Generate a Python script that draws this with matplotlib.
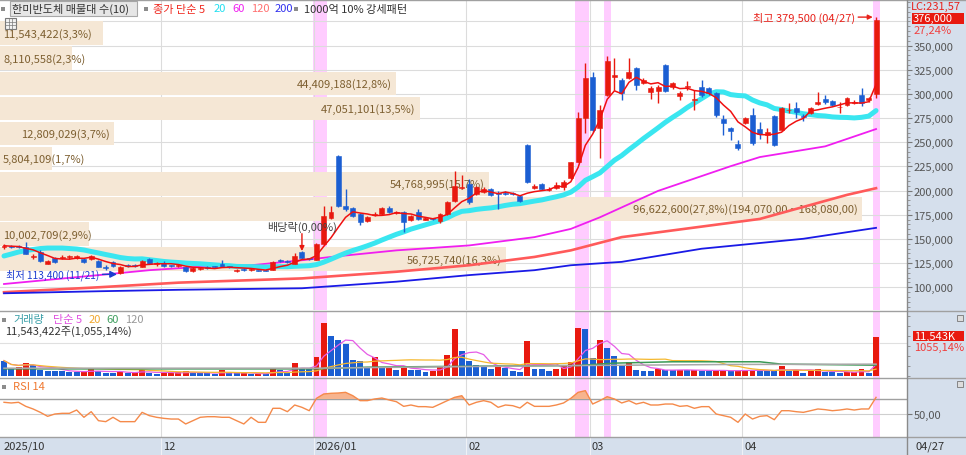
import numpy as np
import pandas as pd
import matplotlib
matplotlib.use("Agg")
import matplotlib.pyplot as plt
import matplotlib.transforms as mtransforms
from matplotlib.patches import Rectangle
from matplotlib.lines import Line2D
from matplotlib.ticker import FuncFormatter, MultipleLocator

plt.rcParams['font.family'] = ['Noto Sans CJK KR', 'DejaVu Sans']
plt.rcParams['font.size'] = 8

# 일봉 데이터 (천원) - 2025/10/30 ~ 2026/04/27
opens = [142.0, 143.0, 142.5, 142.0, 131.5, 136.9, 124.6, 130.7, 130.7, 131.0,
         130.7, 129.7, 129.7, 127.7, 121.0, 126.6, 114.3, 123.0, 123.0, 121.5,
         129.7, 124.0, 125.6, 123.0, 122.5, 120.5, 116.4, 119.0, 121.0, 122.0,
         124.6, 122.0, 117.0, 118.8, 117.4, 118.0, 118.0, 118.4, 128.2, 127.2,
         124.6, 136.9, 130.2, 128.7, 145.1, 171.7, 236.0, 184.0, 182.0, 175.8,
         168.6, 175.0, 175.8, 182.0, 177.0, 177.9, 169.7, 177.9, 170.0, 171.7,
         168.6, 175.8, 189.1, 203.0, 206.6, 196.3, 198.4, 201.4, 197.3, 197.0,
         197.0, 194.3, 247.5, 203.0, 206.6, 200.9, 202.5, 203.5, 212.7, 230.1,
         275.2, 317.2, 264.9, 298.8, 318.0, 314.1, 316.2, 326.4, 311.1, 301.8,
         302.9, 329.5, 307.0, 297.8, 307.0, 294.0, 307.0, 305.9, 300.8, 274.2,
         265.0, 248.6, 270.1, 278.3, 263.9, 257.8, 277.3, 262.9, 283.0, 285.5,
         277.3, 280.3, 289.5, 294.7, 292.6, 286.0, 288.5, 291.0, 298.8, 294.0,
         300.0]
highs = [145.1, 144.0, 143.5, 147.1, 134.8, 138.9, 128.7, 131.8, 133.8, 133.8,
         133.8, 130.7, 133.8, 128.7, 123.5, 127.7, 122.5, 124.5, 124.5, 128.7,
         130.7, 126.6, 127.0, 123.5, 124.6, 121.5, 120.5, 121.5, 122.5, 122.5,
         128.0, 122.5, 119.0, 119.5, 119.5, 118.4, 118.4, 127.2, 129.0, 128.0,
         135.9, 137.5, 130.7, 145.6, 184.0, 184.0, 237.0, 201.4, 183.0, 176.9,
         173.8, 178.0, 183.0, 184.0, 179.0, 179.0, 174.8, 181.0, 172.8, 172.0,
         176.9, 189.1, 219.9, 216.0, 211.7, 205.0, 203.5, 202.5, 199.4, 199.4,
         198.4, 195.3, 248.6, 206.6, 207.6, 203.5, 208.6, 210.7, 230.1, 281.4,
         331.6, 322.3, 288.5, 339.7, 337.7, 316.2, 337.7, 328.0, 317.0, 308.0,
         309.0, 331.0, 312.0, 303.0, 313.0, 303.9, 314.1, 307.0, 302.0, 278.3,
         266.0, 252.7, 276.2, 285.5, 271.1, 265.0, 278.3, 286.5, 290.6, 291.6,
         279.0, 286.5, 301.8, 298.8, 294.0, 291.6, 297.0, 293.6, 305.9, 296.5,
         379.5]
lows = [140.0, 141.0, 140.5, 134.0, 129.7, 126.6, 123.6, 125.6, 129.7, 129.7,
        129.7, 125.6, 128.7, 120.5, 117.4, 121.5, 113.4, 120.5, 120.5, 121.0,
        123.6, 122.5, 121.5, 121.0, 121.5, 115.5, 115.4, 118.4, 119.0, 120.5,
        121.0, 120.0, 116.0, 117.0, 117.0, 116.4, 116.4, 118.0, 126.6, 125.6,
        124.0, 129.7, 128.7, 128.2, 144.0, 170.7, 183.0, 179.0, 172.8, 164.5,
        167.6, 174.0, 174.8, 176.9, 176.0, 157.4, 168.6, 169.7, 169.7, 169.5,
        166.6, 174.8, 188.1, 201.4, 186.0, 195.3, 197.3, 194.3, 181.0, 195.3,
        195.3, 188.1, 207.6, 201.4, 200.4, 199.4, 201.4, 200.4, 212.0, 229.1,
        259.8, 261.0, 234.2, 297.8, 303.9, 293.6, 315.0, 304.0, 310.0, 295.0,
        290.6, 301.8, 305.0, 294.0, 304.0, 283.4, 297.0, 299.0, 276.2, 257.8,
        252.7, 242.4, 269.0, 247.5, 253.0, 249.6, 246.5, 262.0, 280.0, 275.2,
        272.0, 279.0, 288.5, 289.5, 287.5, 280.3, 287.5, 289.5, 288.0, 292.0,
        296.0]
closes = [143.0, 142.0, 141.5, 134.8, 132.5, 127.7, 127.7, 126.6, 131.8, 131.8,
          132.8, 126.6, 132.8, 121.5, 119.5, 122.5, 121.5, 122.5, 122.0, 127.7,
          124.6, 125.0, 122.5, 122.0, 123.5, 116.4, 119.5, 120.0, 120.0, 121.0,
          121.5, 121.0, 118.0, 118.0, 119.0, 117.0, 117.2, 126.6, 127.2, 126.2,
          132.8, 130.7, 129.2, 145.1, 173.8, 177.9, 184.0, 181.0, 173.8, 167.6,
          172.8, 175.8, 182.0, 177.9, 177.9, 167.6, 173.8, 170.7, 171.7, 170.7,
          175.8, 188.1, 204.5, 204.0, 188.1, 203.5, 201.4, 195.3, 196.3, 196.3,
          196.3, 189.1, 208.6, 204.5, 201.4, 201.4, 205.5, 208.6, 229.1, 275.2,
          316.2, 262.9, 283.4, 334.6, 319.3, 300.8, 322.3, 309.0, 314.1, 305.9,
          307.0, 302.9, 311.1, 300.8, 308.0, 294.7, 298.8, 300.8, 278.3, 270.1,
          261.9, 244.5, 275.2, 249.6, 258.8, 260.9, 247.5, 285.5, 283.4, 281.4,
          276.2, 285.5, 291.6, 291.6, 288.5, 286.5, 295.7, 291.6, 290.6, 295.5,
          376.0]

# 거래량 (백만주)
volumes = [4.65, 2.37, 2.66, 3.94, 3.35, 1.98, 1.69, 1.66, 1.48, 1.39,
           1.15, 1.24, 2.16, 1.69, 0.98, 0.95, 1.39, 0.98, 1.18, 1.98,
           0.98, 0.59, 1.00, 1.10, 1.20, 1.45, 0.89, 0.86, 0.83, 0.80,
           1.78, 0.89, 0.83, 0.86, 0.70, 0.75, 0.72, 2.37, 1.98, 1.39,
           3.85, 2.37, 2.16, 5.62, 15.70, 12.05, 10.75, 9.56, 4.82, 4.65,
           2.66, 5.62, 2.66, 2.75, 1.98, 2.66, 1.98, 1.80, 1.39, 1.45,
           2.66, 6.42, 14.00, 7.40, 4.65, 3.46, 2.66, 2.16, 2.66, 2.46,
           1.48, 1.18, 10.36, 2.16, 2.07, 1.69, 2.16, 3.46, 4.35, 14.20,
           14.05, 5.33, 10.75, 8.29, 5.92, 3.46, 4.14, 1.86, 1.69, 1.63,
           2.16, 1.86, 1.80, 1.90, 1.75, 1.85, 1.70, 1.62, 1.75, 1.80,
           1.45, 1.70, 1.86, 1.95, 1.69, 1.48, 1.45, 3.17, 1.69, 1.98,
           0.98, 1.69, 2.16, 1.18, 1.15, 1.12, 1.20, 1.25, 2.16, 1.00,
           11.543422]

# RSI 14
rsi14 = [65.6, 64.7, 65.6, 60.2, 56.7, 52.2, 46.9, 50.0, 50.9, 50.9,
         55.3, 45.6, 53.1, 41.1, 39.8, 45.6, 39.8, 39.8, 39.8, 52.2,
         47.8, 45.6, 44.2, 43.3, 43.3, 36.7, 41.1, 45.6, 46.4, 46.4,
         45.6, 45.6, 41.1, 36.7, 45.6, 38.9, 38.9, 57.6, 57.6, 53.1,
         62.0, 58.9, 54.4, 70.9, 76.7, 77.6, 78.0, 78.9, 74.4, 67.8,
         67.8, 70.0, 71.3, 68.7, 66.4, 60.2, 62.0, 59.8, 59.8, 58.9,
         63.3, 67.8, 72.2, 74.4, 62.0, 65.6, 67.8, 65.6, 58.9, 62.0,
         61.1, 58.0, 65.6, 60.2, 60.2, 60.2, 62.0, 64.7, 70.9, 78.9,
         81.1, 63.3, 67.8, 73.1, 70.0, 64.7, 67.8, 63.3, 65.6, 62.0,
         62.0, 63.3, 63.3, 60.2, 61.1, 57.6, 59.8, 59.8, 50.0, 47.8,
         45.6, 38.9, 50.0, 43.3, 46.9, 47.8, 42.4, 54.4, 54.4, 53.1,
         52.2, 54.4, 56.7, 55.8, 54.4, 55.3, 56.7, 55.3, 56.7, 56.7,
         72.2]

# 20일선 앞부분 (이전 데이터가 없어 화면에서 읽음, 천원)
ma20_head = [132.4, 134.4, 136.5, 138.0, 139.1, 140.1, 140.6, 140.6, 140.6, 140.1,
             139.6, 138.6, 137.0, 135.5, 133.9, 132.4, 130.8, 129.8, 129.3]
# 60/120/200일선 (화면에서 읽은 점, 천원)
ma60_idx = [0, 13, 20, 27, 34, 41, 45, 54, 64, 73, 78, 82, 90, 100, 104, 113, 120]
ma60_val = [103.4, 112.6, 117.7, 121.2, 122.8, 128.0, 131.4, 138.2, 143.3, 151.9,
            160.4, 172.4, 199.7, 225.3, 234.7, 245.8, 263.7]
ma120_idx = [0, 13, 24, 41, 54, 64, 73, 78, 85, 104, 116, 120]
ma120_val = [94.9, 100.0, 104.8, 109.2, 116.1, 122.8, 131.4, 138.2, 151.9, 170.7, 195.6, 202.5]
ma200_idx = [0, 13, 24, 41, 54, 64, 73, 78, 85, 96, 110, 120]
ma200_val = [93.8, 95.9, 97.4, 99.0, 105.8, 112.6, 117.7, 122.8, 126.3, 139.9, 150.2, 161.5]
# 거래량 60/120 이평 (백만주)
vma60_idx = [0, 43, 50, 60, 66, 79, 84, 92, 104, 107, 120]
vma60_val = [2.2, 2.2, 2.7, 2.9, 3.0, 3.2, 3.9, 4.3, 4.3, 3.6, 3.3]
vma120_idx = [0, 43, 60, 80, 100, 120]
vma120_val = [2.4, 2.4, 2.8, 3.2, 3.5, 3.6]

# 매물대 (아래 구간부터)
band_vol = [56725740, 10002709, 96622600, 54768995, 5804109,
            12809029, 47051101, 44409188, 8110558, 11543422]
band_pct = [16.3, 2.9, 27.8, 15.7, 1.7, 3.7, 13.5, 12.8, 2.3, 3.3]
band_low = 116100
band_step = 25990

# 날짜 / 기타 정보
month_idx = [0, 22, 43, 64, 81, 102]
month_lbl = ['2025/10', '12', '2026/01', '02', '03', '04']
strong_days = [[43, 44], [79, 80], [83], [120]]   # 1000억 10% 강세패턴
dividend_idx = 41
dividend_pct = 0.0
low_date = '11/21'
last_date = '04/27'
last_volume = 11543422
vol_chg = 1055.14
price_chg = 27.24
lc_value = 231.57

RED = '#e8190f'
BLUE = '#1b5ed2'
W, H = 966, 456


def fx(px):
    return px / W


def fy(py):
    return 1 - py / H


def kf(v, d):
    # 한국식 표기: 소수점도 쉼표
    return f"{v:,.{d}f}".replace('.', ',')


o = np.array(opens) * 1000
h = np.array(highs) * 1000
l = np.array(lows) * 1000
c = np.array(closes) * 1000
v = np.array(volumes)
r = np.array(rsi14)
n = len(c)
x = np.arange(n)

fig = plt.figure(figsize=(9.66, 4.56), dpi=100)
fig.patch.set_facecolor('white')

# 오른쪽 축 영역 배경
fig.add_artist(Rectangle((fx(907), 0), 1 - fx(907), 1, transform=fig.transFigure,
                         facecolor='#d5dfec', edgecolor='none', zorder=-10))

ax_p = fig.add_axes([0, fy(311), fx(907), 309 / H])
ax_v = fig.add_axes([0, fy(378.5), fx(907), 66.5 / H], sharex=ax_p)
ax_r = fig.add_axes([0, fy(437.5), fx(907), 58.5 / H], sharex=ax_p)
ax_d = fig.add_axes([0, 0, fx(907), 18 / H], sharex=ax_p)
ax_d.set_facecolor('#d5dfec')

for ax in (ax_p, ax_v, ax_r, ax_d):
    for s in ax.spines.values():
        s.set_visible(False)
    ax.tick_params(axis='x', bottom=False, labelbottom=False)
    ax.tick_params(axis='y', left=False, labelleft=False)
ax_p.set_xlim(-0.55, 124.26)
ax_d.set_yticks([])

# 강세패턴 표시 / 세로 격자
for grp in strong_days:
    for ax in (ax_p, ax_v, ax_r):
        ax.axvspan(grp[0] - 0.48, grp[-1] + 0.48, color='#ffccff', lw=0, zorder=0)
for m in month_idx[1:]:
    for ax in (ax_p, ax_v, ax_r):
        ax.axvline(m - 0.4, color='#dcdcdc', lw=0.8, zorder=0.5)
    ax_d.axvline(m - 0.4, color='#eef1f6', lw=0.8)

# ---------------- 가격 ----------------
ax_p.set_ylim(76510, 396170)
for yv in range(100000, 375001, 25000):
    ax_p.axhline(yv, color='#dcdcdc', lw=0.8, zorder=0.5)

# 매물대
tb = mtransforms.blended_transform_factory(ax_p.transAxes, ax_p.transData)
vmax = max(band_vol)
full = 862 / 907
for k in range(len(band_vol)):
    lo = band_low + k * band_step
    w = band_vol[k] / vmax * full
    ax_p.add_patch(Rectangle((0, lo + 800), w, band_step - 1600, transform=tb,
                             facecolor='#f5e7d5', edgecolor='none', zorder=1))
    lbl = kf(band_vol[k], 0) + '(' + kf(band_pct[k], 1) + '%)'
    if band_vol[k] == vmax:
        lbl += '(' + kf(lo + band_step, 2) + ' ~ ' + kf(lo, 2) + ')'
    if band_pct[k] < 3.5:
        ax_p.text(3 / 907, lo + band_step / 2, lbl, transform=tb, ha='left', va='center',
                  color='#7d5f30', zorder=1.5)
    else:
        ax_p.text(w - 4 / 907, lo + band_step / 2, lbl, transform=tb, ha='right', va='center',
                  color='#7d5f30', zorder=1.5)

# 이동평균
cs = pd.Series(c)
ma5 = cs.rolling(5, min_periods=1).mean()
ma20 = cs.rolling(20).mean()
ma20.iloc[:len(ma20_head)] = np.array(ma20_head) * 1000
ax_p.plot(ma60_idx, np.array(ma60_val) * 1000, color='#f01ef0', lw=1.3, zorder=2)
ax_p.plot(ma120_idx, np.array(ma120_val) * 1000, color='#ff5a5a', lw=1.9, zorder=2)
ax_p.plot(ma200_idx, np.array(ma200_val) * 1000, color='#1a1ae6', lw=1.3, zorder=2)
ax_p.plot(x, ma20, color='#3ae6f0', lw=3.6, zorder=2, solid_capstyle='round')

# 캔들
col = np.where(c >= o, RED, BLUE)
ax_p.vlines(x, l, h, colors=col, lw=1, zorder=3)
ax_p.bar(x, np.maximum(np.abs(c - o), 900), bottom=np.minimum(o, c), width=0.68,
         color=col, edgecolor=col, lw=0.4, zorder=4)
ax_p.plot(x, ma5, color='#f01010', lw=1.1, zorder=5)

# 최고 / 최저 / 배당락
i_hi = int(np.argmax(h))
i_lo = int(np.argmin(l))
ax_p.annotate(f"최고 {h[i_hi]:,.0f} ({last_date})", xy=(i_hi - 0.45, h[i_hi]), xytext=(-12.5, 0),
              textcoords='offset points', ha='right', va='center', color='#e8221b', zorder=8,
              arrowprops=dict(arrowstyle='-|>', color='#e8221b', lw=1, shrinkA=0, shrinkB=0,
                              mutation_scale=7, relpos=(1, 0.5)))
ax_p.annotate(f"최저 {l[i_lo]:,.0f} ({low_date})", xy=(i_lo - 0.45, l[i_lo]), xytext=(-12.5, 0),
              textcoords='offset points', ha='right', va='center', color='#1c3ccf', zorder=8,
              fontsize=7.3,
              arrowprops=dict(arrowstyle='-|>', color='#1c3ccf', lw=1, shrinkA=0, shrinkB=0,
                              mutation_scale=10, relpos=(1, 0.5)))
ax_p.annotate('', xy=(dividend_idx, h[dividend_idx]), xytext=(0, 12.5), textcoords='offset points',
              arrowprops=dict(arrowstyle='-|>', color=RED, lw=1, shrinkA=0, shrinkB=0,
                              mutation_scale=7), zorder=8)
ax_p.annotate('배당락(' + kf(dividend_pct, 2) + '%)', xy=(dividend_idx, h[dividend_idx]),
              xytext=(0, 17.5), textcoords='offset points', ha='center', va='center',
              color='#444444', zorder=8)

# 가격축 (오른쪽)
ax_p.yaxis.tick_right()
ax_p.set_yticks(range(100000, 350001, 25000))
ax_p.yaxis.set_major_formatter(FuncFormatter(lambda val, p: f"{int(val):,}"))
ax_p.yaxis.set_minor_locator(MultipleLocator(5000))
ax_p.tick_params(axis='y', which='major', right=True, labelright=True, length=3.6, width=0.8,
                 color='#777777', pad=1, labelcolor='#555555', labelsize=8)
ax_p.tick_params(axis='y', which='minor', right=True, length=1.8, width=0.6, color='#888888')

# ---------------- 거래량 ----------------
ax_v.set_ylim(-0.36, 19.35)
ax_v.axhline(10, color='#e0e0e0', lw=0.8, zorder=0.5)
vcol = [BLUE] + [RED if v[i] > v[i - 1] else BLUE for i in range(1, n)]
ax_v.bar(x, v, width=0.82, color=vcol, zorder=3)
vs = pd.Series(v)
ax_v.plot(x, vs.rolling(5, min_periods=1).mean(), color='#e65ce6', lw=0.9, zorder=4)
ax_v.plot(x, vs.rolling(20, min_periods=1).mean(), color='#f5b82e', lw=0.9, zorder=4)
ax_v.plot(vma60_idx, vma60_val, color='#3a9a55', lw=1.1, zorder=4)
ax_v.plot(vma120_idx, vma120_val, color='#a8a8a8', lw=1.1, zorder=4)
ax_v.yaxis.tick_right()
ax_v.set_yticks([0, 3, 6, 9, 12, 15, 18])
ax_v.tick_params(axis='y', right=True, labelright=False, length=1.8, width=0.6, color='#888888')

# ---------------- RSI ----------------
ax_r.set_ylim(20, 98)
ax_r.axhline(70, color='#a0a0a0', lw=1.0, zorder=0.6)
ax_r.axhline(50, color='#cfcfcf', lw=0.8, zorder=0.6)
ax_r.fill_between(x, r, 70, where=r >= 70, interpolate=True, color='#f7b48e', lw=0, zorder=2)
ax_r.plot(x, r, color='#f58a4a', lw=1.0, zorder=3)
ax_r.yaxis.tick_right()
ax_r.set_yticks([50])
ax_r.yaxis.set_major_formatter(FuncFormatter(lambda val, p: kf(val, 2)))
ax_r.tick_params(axis='y', right=True, labelright=True, length=3.6, width=0.8,
                 color='#777777', pad=1, labelcolor='#555555', labelsize=8)

# ---------------- 날짜 ----------------
td = mtransforms.offset_copy(mtransforms.blended_transform_factory(ax_d.transData, ax_d.transAxes),
                             fig=fig, x=2, y=0, units='dots')
for m, t in zip(month_idx, month_lbl):
    ax_d.text(m - 0.4, 0.5, t, transform=td, ha='left', va='center', color='#333333')
fig.text(fx(915), fy(447), last_date, ha='left', va='center', color='#333333')

# 구분선
for yy in (0.5, 311.5, 378.8, 437.8):
    fig.add_artist(Line2D([0, 1], [fy(yy), fy(yy)], transform=fig.transFigure,
                          color='#a0a0a0', lw=1))
fig.add_artist(Line2D([fx(907), fx(907)], [0, 1], transform=fig.transFigure,
                      color='#8a8a8a', lw=1))


def square(px, py, s=4, col='#8c8c8c'):
    fig.add_artist(Rectangle((fx(px - s / 2), fy(py + s / 2)), s / W, s / H,
                             transform=fig.transFigure, facecolor=col, edgecolor='none'))


def ftext(px, py, s, col, **kw):
    fig.text(fx(px), fy(py), s, ha='left', va='center', color=col, **kw)


# 상단 범례
square(3, 9.5)
fig.add_artist(Rectangle((fx(9.5), fy(16.5)), fx(137) - fx(9.5), 14.5 / H, transform=fig.transFigure,
                         facecolor='#e6e6e6', edgecolor='#a8a8a8', lw=0.8))
ftext(12, 9.5, '한미반도체 매물대 수(10)', '#333333')
square(146, 9.5)
ftext(153, 9.5, '종가 단순 5', '#f0281e')
ftext(214, 9.5, '20', '#22dff0')
ftext(232, 9.5, '60', '#f020f0')
ftext(251, 9.5, '120', '#ff7070')
ftext(275, 9.5, '200', '#3030ee')
square(296, 9.5)
ftext(304, 9.5, '1000억 10% 강세패턴', '#333333')
# 표 아이콘
fig.add_artist(Rectangle((fx(5), fy(30)), 11 / W, 11 / H, transform=fig.transFigure,
                         facecolor='#f2f2f2', edgecolor='#7a7a7a', lw=0.8))
for k in (1, 2):
    fig.add_artist(Line2D([fx(5), fx(16)], [fy(19 + k * 11 / 3)] * 2, transform=fig.transFigure,
                          color='#7a7a7a', lw=0.5))
    fig.add_artist(Line2D([fx(5 + k * 11 / 3)] * 2, [fy(19), fy(30)], transform=fig.transFigure,
                          color='#7a7a7a', lw=0.5))

# 오른쪽 현재가 표시
ftext(911, 7, 'LC:' + kf(lc_value, 2), '#e8221b')
fig.add_artist(Rectangle((fx(911.5), fy(25)), 52 / W, 11.5 / H, transform=fig.transFigure,
                         facecolor=RED, edgecolor='none'))
ftext(913, 19.3, kf(c[-1], 0), 'white')
ftext(914, 31, kf(price_chg, 2) + '%', '#f04040')

# 거래량 범례
square(4, 320.5)
ftext(13, 320.5, '거래량', '#3a9fa8')
ftext(53, 320.5, '단순 5', '#e050e0')
ftext(89, 320.5, '20', '#f0a830')
ftext(106, 320.5, '60', '#40a060')
ftext(125, 320.5, '120', '#999999')
ftext(5, 332, kf(last_volume, 0) + '주(' + kf(vol_chg, 2) + '%)', '#333333')
fig.add_artist(Rectangle((fx(912.5), fy(341.5)), 51 / W, 10 / H, transform=fig.transFigure,
                         facecolor=RED, edgecolor='none'))
ftext(914, 336.5, kf(last_volume // 1000, 0) + 'K', 'white')
ftext(914, 348.3, f"{vol_chg:.2f}".replace('.', ',') + '%', '#f03c3c')
for iy in (318.5, 385):
    fig.add_artist(Rectangle((fx(957), fy(iy + 3)), 6 / W, 6 / H, transform=fig.transFigure,
                             facecolor='#dddddd', edgecolor='#777777', lw=0.6))

# RSI 범례
square(4, 387.5)
ftext(13, 387.5, 'RSI 14', '#f07830')

fig.savefig('out.png', dpi=100)
